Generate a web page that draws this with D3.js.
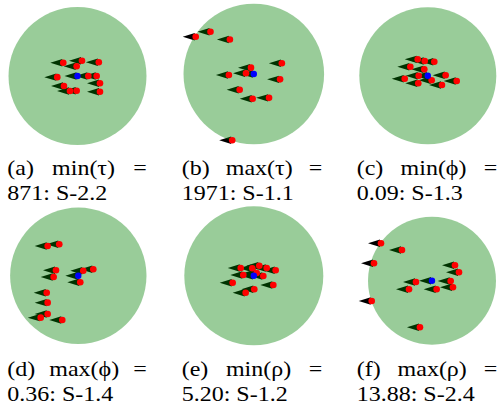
<!DOCTYPE html>
<html>
<head>
<meta charset="utf-8">
<script src="https://cdn.jsdelivr.net/npm/d3@7"></script>
<style>
  html, body { margin: 0; padding: 0; background: #fff; }
  svg { display: block; }
</style>
</head>
<body>
<svg id="chart" width="499" height="408"></svg>
<script>
// ---------------- data ----------------
const panelLabels = ["(a)", "(b)", "(c)", "(d)", "(e)", "(f)"];
const statNames = ["min(τ)", "max(τ)", "min(ϕ)", "max(ϕ)", "min(ρ)", "max(ρ)"];
const statValues = ["871", "1971", "0.09", "0.36", "5.20", "13.88"];
const scenarios = ["S-2.2", "S-1.1", "S-1.3", "S-1.4", "S-1.2", "S-2.4"];

// arena radius (units)
const arenaRadius = 100;
// leader position in each panel (units)
const leader = [0, 0];

// follower positions (x, y up) in arena units
const followersA = [[-20.6,19.3],[6.5,22.2],[-1.2,14.1],[30.9,19.9],[-29.3,-1.7],[15.7,0],[27.8,0],[32.6,-10.6],[-19.6,-14.5],[-10.9,-21.7],[-1.2,-21.4],[32.6,-22.8]];
const followersB = [[-82.6,52.9],[-61.6,60],[-34,49],[39.9,15.3],[-4,9],[-11.1,1],[-35.4,-1.4],[37.4,-7.6],[-20.1,-22.4],[-1.6,-35.3],[21.7,-33.9],[-30.7,-94.3]];
const followersC = [[-14.7,23.9],[-4.5,21.5],[9.5,20.4],[-25.5,13.1],[-5.1,9.3],[26.1,0.6],[-13.3,0],[-33.7,-4.4],[5.7,-6.7],[42.2,-7.7],[-13.9,-11.1],[20.7,-13.6]];
const followersD = [[-44.9,43.7],[-27.9,46.2],[-32.7,8.1],[7.3,7.5],[22,9.5],[-36.1,-1.8],[2.9,-9.5],[-46.3,-24.8],[-44.9,-39.4],[-44.9,-56],[-55.1,-61.4],[-23.5,-64.8]];
const followersE = [[-18.8,11.2],[-2.2,10.8],[7.9,14.5],[18.6,11.2],[31.5,7.9],[-15.1,1.2],[4.2,4],[13.7,-0.3],[-30.4,-9.9],[28.1,-13.2],[0.7,-19.4],[-11.7,-24.3]];
const followersF = [[-79.7,58.4],[-46.9,48],[-90.6,27.2],[35.9,24.1],[42.2,13.1],[-25,-2],[29.2,-0.5],[-35.9,-13.4],[7.3,-13.4],[32.8,-10.3],[-94.2,-31.7],[-18.8,-72.8]];
const followers = [followersA, followersB, followersC, followersD, followersE, followersF];

// ---------------- layout ----------------
const panelBox = [
  {cx: 77.5,  cy: 76.0,  r: 69.0},
  {cx: 253.8, cy: 74.0,  r: 70.3},
  {cx: 427.8, cy: 75.7,  r: 68.5},
  {cx: 78.3,  cy: 275.8, r: 68.2},
  {cx: 253.8, cy: 275.8, r: 69.5},
  {cx: 432.0, cy: 280.7, r: 64.0}
];
const colLeft = [7.3, 181.7, 356.7];
const colRight = [146.7, 322.3, 497.3];
const line1Base = [175.2, 375.7];
const line2Base = [199.8, 400.5];
const fontSize = 20;
const fontFamily = '"Liberation Serif"';
const sx = 1.2;

const svg = d3.select("#chart");
const agentPath = "M-13,0 L-1,-3.7 L-1,3.7 Z";

panelBox.forEach((b, i) => {
  const x = d3.scaleLinear().domain([-arenaRadius, arenaRadius]).range([b.cx - b.r, b.cx + b.r]);
  const y = d3.scaleLinear().domain([-arenaRadius, arenaRadius]).range([b.cy + b.r, b.cy - b.r]);
  const g = svg.append("g");
  const all = followers[i].concat([leader]);

  g.selectAll("path.agent").data(all).join("path")
    .attr("class", "agent")
    .attr("d", agentPath)
    .attr("transform", d => `translate(${x(d[0])},${y(d[1])})`)
    .attr("fill", "#000");

  g.append("circle")
    .attr("cx", x(0)).attr("cy", y(0))
    .attr("r", x(arenaRadius) - x(0))
    .attr("fill", "#008000")
    .attr("fill-opacity", 0.4);

  g.selectAll("circle.follower").data(followers[i]).join("circle")
    .attr("class", "follower")
    .attr("cx", d => x(d[0])).attr("cy", d => y(d[1]))
    .attr("r", 3.3)
    .attr("fill", "#ff0000");

  g.append("circle")
    .attr("cx", x(leader[0])).attr("cy", y(leader[1]))
    .attr("r", 3.2)
    .attr("fill", "#0000ff");

  // caption
  const col = i % 3, row = Math.floor(i / 3);
  const left = colLeft[col], right = colRight[col];
  const cap = svg.append("g");
  const mk = (s) => cap.append("text").text(s)
    .style("font-family", fontFamily)
    .style("font-size", fontSize + "px")
    .attr("fill", "#000");

  const t1 = mk(panelLabels[i])
    .attr("transform", `translate(${left},${line1Base[row]}) scale(${sx},1)`);
  const t3 = mk("=").attr("text-anchor", "end")
    .attr("transform", `translate(${right},${line1Base[row]}) scale(${sx},1)`);
  const t2 = mk(statNames[i]);
  const w1 = t1.node().getComputedTextLength() * sx;
  const w2 = t2.node().getComputedTextLength() * sx;
  const w3 = t3.node().getComputedTextLength() * sx;
  const gap = (right - left - w1 - w2 - w3) / 2;
  t2.attr("transform", `translate(${left + w1 + gap},${line1Base[row]}) scale(${sx},1)`);

  mk(`${statValues[i]}: ${scenarios[i]}`)
    .attr("transform", `translate(${left},${line2Base[row]}) scale(${sx},1)`);
});
</script>
</body>
</html>
